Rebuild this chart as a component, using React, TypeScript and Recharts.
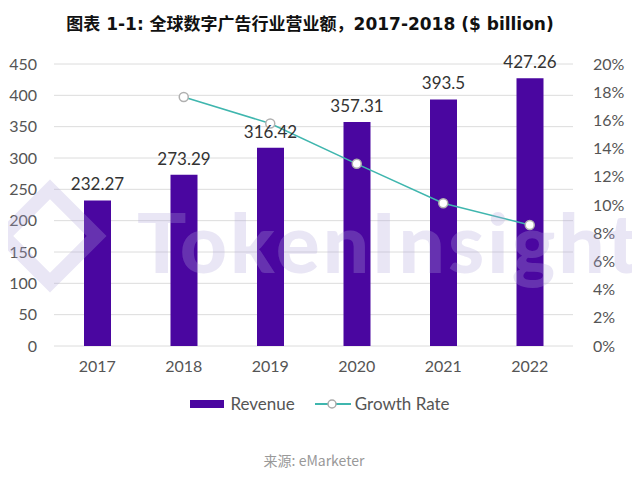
import {
  Bar,
  CartesianGrid,
  ComposedChart,
  LabelList,
  Line,
  XAxis,
  YAxis,
} from 'recharts';

const years = ['2017', '2018', '2019', '2020', '2021', '2022'];
const revenue = [232.27, 273.29, 316.42, 357.31, 393.5, 427.26];
const growthRate = [null, 0.1766, 0.1578, 0.1292, 0.1013, 0.0858];
const revenueTicks = [0, 50, 100, 150, 200, 250, 300, 350, 400, 450];
const rateTicks = [0, 0.02, 0.04, 0.06, 0.08, 0.1, 0.12, 0.14, 0.16, 0.18, 0.2];

const data = years.map((year, i) => ({
  year,
  revenue: revenue[i],
  growth: growthRate[i],
}));

const FONT = 'Lato, "Noto Sans", sans-serif';
const PURPLE = '#4a06a0';
const TEAL = '#3fb6ae';
const MARK = 'rgba(175, 165, 220, 0.28)';

function ChartLegend() {
  return (
    <div
      style={{
        position: 'absolute',
        top: 393,
        left: 0,
        width: 640,
        display: 'flex',
        justifyContent: 'center',
        alignItems: 'center',
        fontFamily: FONT,
        fontSize: 17,
        color: '#555',
      }}
    >
      <span style={{ width: 34, height: 8, background: PURPLE, marginRight: 6 }} />
      <span style={{ marginRight: 20 }}>Revenue</span>
      <svg width={36} height={12} style={{ marginRight: 4 }}>
        <line x1={0} y1={6} x2={36} y2={6} stroke={TEAL} strokeWidth={2} />
        <circle cx={17} cy={6} r={4} fill="#fff" stroke="#aaa" strokeWidth={1.5} />
      </svg>
      <span>Growth Rate</span>
    </div>
  );
}

// faint logo + wordmark laid over the plot, as in the source image
function Watermark() {
  return (
    <>
      <div
        style={{
          position: 'absolute',
          top: 196,
          left: 10,
          width: 52,
          height: 52,
          border: `14px solid ${MARK}`,
          transform: 'rotate(45deg)',
          pointerEvents: 'none',
        }}
      />
      <div
        style={{
          position: 'absolute',
          top: 192,
          left: 137,
          fontFamily: 'Lato, sans-serif',
          fontWeight: 900,
          fontSize: 82,
          letterSpacing: 3,
          color: MARK,
          pointerEvents: 'none',
        }}
      >
        TokenInsight
      </div>
    </>
  );
}

export default function App() {
  return (
    <div
      style={{
        position: 'relative',
        width: 640,
        height: 479,
        margin: -8,
        background: '#fff',
        overflow: 'hidden',
      }}
    >
      <div
        style={{
          position: 'absolute',
          top: 10,
          left: 0,
          width: 620,
          textAlign: 'center',
          fontFamily: '"DejaVu Sans", "Noto Sans CJK SC", sans-serif',
          fontWeight: 700,
          fontSize: 17,
          color: '#111',
        }}
      >
        图表 1-1: 全球数字广告行业营业额，2017-2018 ($ billion)
      </div>
      <div style={{ position: 'absolute', top: 0, left: 0 }}>
        <ComposedChart
          width={640}
          height={420}
          data={data}
          margin={{ top: 64, right: 0, bottom: 0, left: 0 }}
        >
          <CartesianGrid yAxisId="left" vertical={false} stroke="#dcdcdc" />
          <XAxis
            dataKey="year"
            axisLine={false}
            tickLine={false}
            tickMargin={9}
            height={74}
            tick={{ fill: '#555', fontSize: 16, fontFamily: FONT }}
          />
          <YAxis
            yAxisId="left"
            orientation="left"
            width={54}
            domain={[0, 450]}
            ticks={revenueTicks}
            axisLine={false}
            tickLine={false}
            tickMargin={11}
            tick={{ fill: '#555', fontSize: 16, fontFamily: FONT }}
          />
          <YAxis
            yAxisId="right"
            orientation="right"
            width={67}
            domain={[0, 0.2]}
            ticks={rateTicks}
            axisLine={false}
            tickLine={false}
            tickMargin={14}
            tickFormatter={(v: number) => `${Math.round(v * 100)}%`}
            tick={{ fill: '#555', fontSize: 16, fontFamily: FONT, textAnchor: 'start' }}
          />
          <Bar yAxisId="left" dataKey="revenue" fill={PURPLE} barSize={27} isAnimationActive={false}>
            <LabelList
              dataKey="revenue"
              position="top"
              offset={10}
              style={{ fill: '#333', fontSize: 17, fontFamily: FONT }}
            />
          </Bar>
          <Line
            yAxisId="right"
            dataKey="growth"
            stroke={TEAL}
            strokeWidth={1.5}
            dot={{ r: 4.5, fill: '#fff', stroke: '#b0b0b0', strokeWidth: 1.5 }}
            activeDot={false}
            connectNulls={false}
            isAnimationActive={false}
          />
        </ComposedChart>
      </div>
      <ChartLegend />
      <Watermark />
      <div
        style={{
          position: 'absolute',
          top: 450,
          left: 0,
          width: 628,
          textAlign: 'center',
          fontFamily: '"Noto Sans CJK SC", Lato, sans-serif',
          fontSize: 14,
          color: '#999',
        }}
      >
        来源: eMarketer
      </div>
    </div>
  );
}
